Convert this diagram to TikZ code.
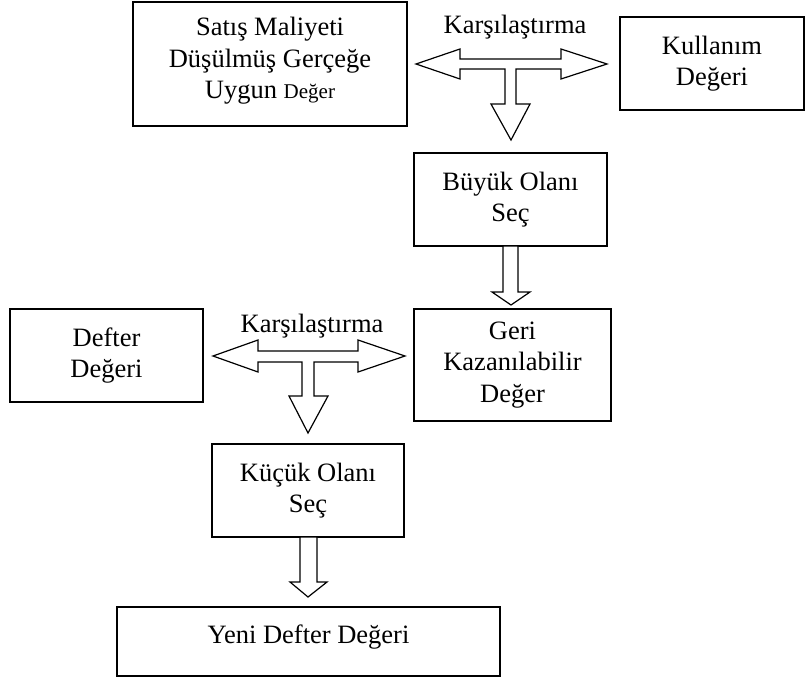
\documentclass[tikz,border=0pt]{standalone}
\usepackage{fontspec}
\setmainfont{Liberation Serif}
\begin{document}
\begin{tikzpicture}[x=1pt,y=-1pt,
  box/.style={draw,line width=1.5pt,inner sep=0pt,align=center,
    font=\fontsize{26.5}{31.5}\selectfont},
  blockarrow/.style={draw,line width=1.2pt,fill=white,line join=miter},
  cmp/.style={anchor=base,inner sep=0pt,font=\fontsize{26.5}{31.5}\selectfont}]
\useasboundingbox (0,0) rectangle (805,677);
% boxes
\node[box,minimum width=274pt,minimum height=124pt] (sm) at (270,64) {};
\node[align=center,inner sep=0pt,font=\fontsize{26.5}{31.5}\selectfont] (smt) at (270,61)
  {Satış Maliyeti\\Düşülmüş Gerçeğe\\Uygun {\fontsize{21}{31.5}\selectfont Değer}};
\node[box,minimum width=184pt,minimum height=93pt] (ku) at (712,63.5) {Kullanım\\Değeri};
\node[box,minimum width=193pt,minimum height=93pt] (bu) at (510.5,199.5) {Büyük Olanı\\Seç};
\node[box,minimum width=197pt,minimum height=112pt] (ge) at (512.5,365) {Geri\\Kazanılabilir\\Değer};
\node[box,minimum width=193pt,minimum height=93pt] (de) at (106.5,355.5) {Defter\\Değeri};
\node[box,minimum width=192pt,minimum height=93pt] (kc) at (308,490.5) {Küçük Olanı\\Seç};
\node[box,minimum width=383pt,minimum height=69pt] (ye) at (308.5,641.5) {};
\node[inner sep=0pt,font=\fontsize{26.5}{31.5}\selectfont] (yet) at (308.5,637) {Yeni Defter Değeri};
% labels
\node[cmp] (c1) at (515,34) {Karşılaştırma};
\node[cmp] (c2) at (312,332) {Karşılaştırma};
% top T arrow
\draw[blockarrow] (416,64) -- (460,49) -- (460,59) -- (561,59) -- (561,49) -- (607,64)
  -- (561,79) -- (561,69) -- (516,69) -- (516,104) -- (530,104) -- (511,140)
  -- (491,104) -- (505,104) -- (505,69) -- (460,69) -- (460,79) -- cycle;
% Büyük -> Geri
\draw[blockarrow] (503,246) -- (518,246) -- (518,292) -- (530,292) -- (511,305)
  -- (492,292) -- (503,292) -- cycle;
% bottom T arrow
\draw[blockarrow] (213,356) -- (258,340) -- (258,351) -- (358,351) -- (358,340) -- (405,356)
  -- (358,372) -- (358,362) -- (314,362) -- (314,396) -- (328,396) -- (308,433)
  -- (289,396) -- (302,396) -- (302,362) -- (258,362) -- (258,372) -- cycle;
% Küçük -> Yeni
\draw[blockarrow] (300,537) -- (317,537) -- (317,582) -- (327,582) -- (308,597)
  -- (290,582) -- (300,582) -- cycle;
\end{tikzpicture}
\end{document}
